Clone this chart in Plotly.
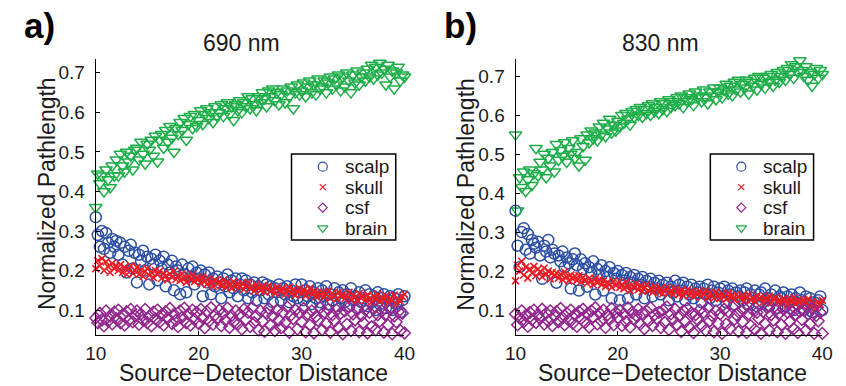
import plotly.graph_objects as go

W, H = 846, 386

# Source-detector distance (mm), 151 samples from 10 to 40 (step 0.2)
distance = [round(10 + 0.2 * i, 1) for i in range(151)]

# ---- 690 nm ----
scalp_690 = [
    0.335, 0.290, 0.260, 0.300, 0.255, 0.295, 0.270, 0.245, 0.280, 0.260,
    0.275, 0.240, 0.270, 0.215, 0.260, 0.195, 0.250, 0.265, 0.205, 0.245,
    0.170, 0.240, 0.225, 0.250, 0.200, 0.235, 0.165, 0.230, 0.215, 0.240,
    0.175, 0.225, 0.205, 0.235, 0.160, 0.215, 0.195, 0.225, 0.150, 0.210,
    0.200, 0.140, 0.215, 0.190, 0.145, 0.205, 0.185, 0.210, 0.165, 0.195,
    0.180, 0.200, 0.135, 0.190, 0.170, 0.195, 0.140, 0.180, 0.160, 0.185,
    0.170, 0.130, 0.180, 0.160, 0.190, 0.145, 0.175, 0.155, 0.180, 0.135,
    0.165, 0.180, 0.150, 0.175, 0.130, 0.165, 0.145, 0.170, 0.125, 0.160,
    0.150, 0.170, 0.130, 0.165, 0.140, 0.160, 0.120, 0.155, 0.145, 0.165,
    0.125, 0.155, 0.140, 0.160, 0.120, 0.150, 0.135, 0.165, 0.130, 0.145,
    0.165, 0.125, 0.150, 0.135, 0.160, 0.115, 0.145, 0.130, 0.155, 0.120,
    0.150, 0.135, 0.160, 0.115, 0.140, 0.125, 0.155, 0.110, 0.145, 0.130,
    0.150, 0.120, 0.140, 0.110, 0.155, 0.125, 0.135, 0.105, 0.145, 0.120,
    0.130, 0.150, 0.110, 0.140, 0.120, 0.135, 0.100, 0.145, 0.115, 0.130,
    0.140, 0.105, 0.125, 0.135, 0.100, 0.130, 0.115, 0.140, 0.095, 0.125,
    0.135]
skull_690 = [
    0.205, 0.225, 0.212, 0.230, 0.200, 0.222, 0.210, 0.195, 0.218, 0.205,
    0.212, 0.200, 0.215, 0.195, 0.208, 0.190, 0.205, 0.212, 0.193, 0.200,
    0.208, 0.190, 0.202, 0.185, 0.198, 0.205, 0.188, 0.196, 0.182, 0.200,
    0.190, 0.198, 0.180, 0.193, 0.186, 0.176, 0.192, 0.183, 0.198, 0.178,
    0.188, 0.175, 0.192, 0.180, 0.170, 0.186, 0.177, 0.190, 0.172, 0.182,
    0.178, 0.168, 0.184, 0.173, 0.165, 0.180, 0.170, 0.160, 0.176, 0.166,
    0.172, 0.162, 0.176, 0.158, 0.170, 0.165, 0.155, 0.172, 0.160, 0.166,
    0.158, 0.168, 0.152, 0.162, 0.170, 0.155, 0.160, 0.148, 0.165, 0.155,
    0.150, 0.160, 0.145, 0.156, 0.162, 0.148, 0.154, 0.142, 0.158, 0.150,
    0.146, 0.155, 0.140, 0.150, 0.158, 0.143, 0.152, 0.138, 0.148, 0.155,
    0.142, 0.150, 0.136, 0.146, 0.155, 0.140, 0.148, 0.134, 0.145, 0.138,
    0.144, 0.132, 0.140, 0.148, 0.130, 0.142, 0.136, 0.128, 0.145, 0.135,
    0.140, 0.128, 0.136, 0.145, 0.126, 0.138, 0.132, 0.124, 0.142, 0.130,
    0.135, 0.125, 0.138, 0.128, 0.120, 0.134, 0.127, 0.140, 0.122, 0.132,
    0.126, 0.136, 0.118, 0.130, 0.124, 0.138, 0.115, 0.128, 0.122, 0.134,
    0.140]
csf_690 = [
    0.080, 0.068, 0.092, 0.075, 0.060, 0.098, 0.072, 0.085, 0.065, 0.095,
    0.078, 0.100, 0.068, 0.088, 0.062, 0.096, 0.074, 0.102, 0.070, 0.086,
    0.098, 0.064, 0.090, 0.075, 0.102, 0.068, 0.084, 0.060, 0.095, 0.078,
    0.100, 0.070, 0.088, 0.062, 0.096, 0.080, 0.104, 0.066, 0.090, 0.074,
    0.058, 0.098, 0.082, 0.105, 0.068, 0.090, 0.062, 0.100, 0.076, 0.094,
    0.066, 0.102, 0.080, 0.055, 0.096, 0.072, 0.106, 0.064, 0.088, 0.078,
    0.100, 0.060, 0.092, 0.074, 0.105, 0.056, 0.086, 0.070, 0.098, 0.064,
    0.090, 0.052, 0.102, 0.076, 0.094, 0.058, 0.106, 0.068, 0.085, 0.050,
    0.098, 0.072, 0.046, 0.092, 0.104, 0.062, 0.085, 0.048, 0.100, 0.075,
    0.055, 0.094, 0.068, 0.108, 0.044, 0.088, 0.078, 0.100, 0.052, 0.092,
    0.070, 0.104, 0.045, 0.090, 0.062, 0.098, 0.042, 0.084, 0.074, 0.106,
    0.050, 0.095, 0.066, 0.102, 0.044, 0.088, 0.072, 0.100, 0.056, 0.092,
    0.040, 0.098, 0.064, 0.108, 0.048, 0.090, 0.075, 0.102, 0.045, 0.086,
    0.068, 0.100, 0.042, 0.094, 0.058, 0.104, 0.050, 0.088, 0.072, 0.098,
    0.044, 0.090, 0.062, 0.102, 0.040, 0.085, 0.070, 0.096, 0.048, 0.092,
    0.042]
brain_690 = [
    0.360, 0.445, 0.420, 0.440, 0.400, 0.455, 0.430, 0.410, 0.465, 0.440,
    0.480, 0.440, 0.495, 0.465, 0.450, 0.500, 0.475, 0.490, 0.455, 0.505,
    0.510, 0.480, 0.525, 0.495, 0.470, 0.520, 0.505, 0.530, 0.490, 0.540,
    0.475, 0.530, 0.545, 0.510, 0.555, 0.525, 0.565, 0.535, 0.500, 0.560,
    0.545, 0.575, 0.555, 0.585, 0.530, 0.570, 0.590, 0.560, 0.595, 0.565,
    0.580, 0.605, 0.570, 0.595, 0.610, 0.585, 0.600, 0.575, 0.615, 0.590,
    0.600, 0.620, 0.590, 0.610, 0.625, 0.595, 0.615, 0.580, 0.620, 0.605,
    0.630, 0.600, 0.625, 0.615, 0.640, 0.610, 0.635, 0.620, 0.605, 0.640,
    0.625, 0.650, 0.635, 0.615, 0.655, 0.640, 0.660, 0.630, 0.650, 0.620,
    0.645, 0.660, 0.625, 0.655, 0.640, 0.665, 0.610, 0.650, 0.670, 0.645,
    0.655, 0.675, 0.640, 0.665, 0.680, 0.650, 0.670, 0.645, 0.685, 0.660,
    0.665, 0.680, 0.650, 0.675, 0.690, 0.660, 0.685, 0.670, 0.695, 0.655,
    0.690, 0.665, 0.700, 0.680, 0.650, 0.695, 0.675, 0.705, 0.670, 0.690,
    0.700, 0.680, 0.710, 0.690, 0.720, 0.685, 0.715, 0.695, 0.725, 0.700,
    0.710, 0.670, 0.720, 0.690, 0.705, 0.660, 0.700, 0.715, 0.680, 0.695,
    0.690]

# ---- 830 nm ----
scalp_830 = [
    0.355, 0.265, 0.210, 0.300, 0.310, 0.255, 0.295, 0.245, 0.280, 0.270,
    0.260, 0.275, 0.240, 0.180, 0.265, 0.250, 0.280, 0.235, 0.255, 0.245,
    0.170, 0.240, 0.225, 0.250, 0.210, 0.235, 0.220, 0.155, 0.230, 0.245,
    0.215, 0.150, 0.230, 0.205, 0.220, 0.160, 0.210, 0.195, 0.225, 0.140,
    0.205, 0.190, 0.215, 0.150, 0.200, 0.185, 0.210, 0.130, 0.195, 0.180,
    0.200, 0.125, 0.190, 0.175, 0.195, 0.130, 0.185, 0.170, 0.190, 0.140,
    0.180, 0.165, 0.185, 0.130, 0.175, 0.160, 0.180, 0.135, 0.170, 0.155,
    0.175, 0.140, 0.165, 0.150, 0.170, 0.125, 0.160, 0.145, 0.175, 0.135,
    0.165, 0.150, 0.170, 0.125, 0.160, 0.140, 0.165, 0.130, 0.155, 0.145,
    0.160, 0.120, 0.155, 0.140, 0.165, 0.130, 0.150, 0.160, 0.125, 0.145,
    0.155, 0.135, 0.160, 0.120, 0.150, 0.140, 0.155, 0.115, 0.145, 0.135,
    0.150, 0.125, 0.145, 0.155, 0.115, 0.140, 0.130, 0.150, 0.110, 0.140,
    0.145, 0.120, 0.155, 0.130, 0.110, 0.140, 0.125, 0.150, 0.105, 0.135,
    0.130, 0.145, 0.110, 0.135, 0.120, 0.140, 0.100, 0.130, 0.115, 0.145,
    0.125, 0.100, 0.135, 0.115, 0.130, 0.095, 0.120, 0.110, 0.125, 0.135,
    0.100]
skull_830 = [
    0.175, 0.215, 0.200, 0.225, 0.190, 0.210, 0.182, 0.205, 0.195, 0.212,
    0.188, 0.205, 0.198, 0.185, 0.208, 0.192, 0.200, 0.180, 0.196, 0.188,
    0.195, 0.182, 0.192, 0.178, 0.198, 0.185, 0.175, 0.190, 0.180, 0.187,
    0.176, 0.188, 0.172, 0.184, 0.178, 0.168, 0.182, 0.174, 0.165, 0.180,
    0.170, 0.178, 0.165, 0.175, 0.160, 0.172, 0.166, 0.158, 0.174, 0.163,
    0.170, 0.158, 0.166, 0.155, 0.172, 0.160, 0.150, 0.165, 0.157, 0.168,
    0.152, 0.162, 0.148, 0.158, 0.165, 0.150, 0.156, 0.145, 0.160, 0.152,
    0.146, 0.156, 0.142, 0.152, 0.158, 0.144, 0.150, 0.140, 0.155, 0.147,
    0.140, 0.150, 0.137, 0.146, 0.152, 0.138, 0.148, 0.135, 0.145, 0.140,
    0.148, 0.134, 0.142, 0.150, 0.132, 0.144, 0.138, 0.130, 0.146, 0.136,
    0.130, 0.142, 0.135, 0.128, 0.144, 0.132, 0.138, 0.126, 0.140, 0.134,
    0.128, 0.138, 0.124, 0.134, 0.140, 0.126, 0.132, 0.122, 0.136, 0.128,
    0.134, 0.120, 0.130, 0.125, 0.136, 0.118, 0.128, 0.132, 0.120, 0.126,
    0.118, 0.130, 0.124, 0.114, 0.128, 0.120, 0.132, 0.116, 0.125, 0.122,
    0.112, 0.126, 0.118, 0.128, 0.110, 0.122, 0.116, 0.106, 0.120, 0.114,
    0.125]
csf_830 = [
    0.090, 0.062, 0.080, 0.098, 0.070, 0.086, 0.058, 0.094, 0.075, 0.100,
    0.068, 0.088, 0.078, 0.102, 0.064, 0.092, 0.072, 0.098, 0.060, 0.085,
    0.096, 0.070, 0.104, 0.080, 0.062, 0.092, 0.074, 0.100, 0.066, 0.088,
    0.058, 0.096, 0.078, 0.102, 0.068, 0.090, 0.056, 0.098, 0.082, 0.106,
    0.064, 0.092, 0.072, 0.100, 0.055, 0.088, 0.076, 0.104, 0.062, 0.094,
    0.080, 0.100, 0.060, 0.090, 0.070, 0.106, 0.056, 0.094, 0.076, 0.086,
    0.102, 0.064, 0.092, 0.052, 0.098, 0.072, 0.106, 0.060, 0.088, 0.078,
    0.094, 0.055, 0.100, 0.068, 0.108, 0.050, 0.090, 0.076, 0.102, 0.062,
    0.085, 0.045, 0.098, 0.070, 0.104, 0.056, 0.092, 0.042, 0.088, 0.075,
    0.100, 0.060, 0.094, 0.048, 0.106, 0.072, 0.086, 0.044, 0.098, 0.066,
    0.090, 0.040, 0.102, 0.064, 0.096, 0.052, 0.108, 0.076, 0.088, 0.045,
    0.098, 0.070, 0.104, 0.042, 0.090, 0.060, 0.100, 0.050, 0.094, 0.078,
    0.040, 0.096, 0.066, 0.106, 0.048, 0.088, 0.074, 0.100, 0.044, 0.092,
    0.062, 0.102, 0.040, 0.094, 0.070, 0.098, 0.052, 0.088, 0.042, 0.096,
    0.076, 0.100, 0.048, 0.090, 0.064, 0.104, 0.040, 0.086, 0.072, 0.094,
    0.040]
brain_830 = [
    0.550, 0.355, 0.440, 0.415, 0.455, 0.405, 0.435, 0.460, 0.420, 0.450,
    0.515, 0.445, 0.480, 0.460, 0.500, 0.440, 0.490, 0.470, 0.505, 0.455,
    0.525, 0.485, 0.510, 0.495, 0.530, 0.480, 0.515, 0.500, 0.535, 0.490,
    0.505, 0.470, 0.540, 0.520, 0.485, 0.550, 0.530, 0.560, 0.540, 0.555,
    0.535, 0.570, 0.550, 0.580, 0.545, 0.565, 0.590, 0.555, 0.575, 0.560,
    0.585, 0.570, 0.600, 0.580, 0.605, 0.590, 0.575, 0.610, 0.595, 0.615,
    0.600, 0.620, 0.595, 0.615, 0.605, 0.625, 0.600, 0.630, 0.610, 0.620,
    0.605, 0.635, 0.615, 0.630, 0.610, 0.640, 0.620, 0.635, 0.625, 0.645,
    0.630, 0.650, 0.620, 0.645, 0.635, 0.655, 0.640, 0.625, 0.660, 0.645,
    0.650, 0.635, 0.665, 0.645, 0.630, 0.660, 0.650, 0.670, 0.640, 0.660,
    0.670, 0.645, 0.665, 0.680, 0.655, 0.675, 0.650, 0.685, 0.665, 0.690,
    0.660, 0.680, 0.670, 0.690, 0.655, 0.685, 0.675, 0.695, 0.665, 0.700,
    0.680, 0.695, 0.670, 0.700, 0.685, 0.705, 0.675, 0.690, 0.710, 0.685,
    0.700, 0.715, 0.690, 0.720, 0.705, 0.730, 0.695, 0.725, 0.710, 0.740,
    0.715, 0.700, 0.725, 0.690, 0.710, 0.675, 0.705, 0.720, 0.695, 0.715,
    0.705]

tissues = ["scalp", "skull", "csf", "brain"]
panel_titles = ["690 nm", "830 nm"]
panel_labels = ["a)", "b)"]
x_ticks = [10, 20, 30, 40]
y_ticks = [0.1, 0.2, 0.3, 0.4, 0.5, 0.6, 0.7]
x_title = "Source\u2212Detector Distance"
y_title = "Normalized Pathlength"

data = [
    {"scalp": scalp_690, "skull": skull_690, "csf": csf_690, "brain": brain_690},
    {"scalp": scalp_830, "skull": skull_830, "csf": csf_830, "brain": brain_830},
]

style = {
    "scalp": dict(symbol="circle-open", size=11, color="#2c4fa6", lw=1.5),
    "skull": dict(symbol="x-thin-open", size=7, color="#ec1c24", lw=1.6),
    "csf": dict(symbol="diamond-open", size=9, color="#93268e", lw=1.5),
    "brain": dict(symbol="triangle-down-open", size=11, color="#1dae48", lw=1.5),
}

FONT = "Liberation Sans, Arial, Helvetica, sans-serif"
TXT = "#1a1a1a"

fig = go.Figure()

# pixel geometry of the axes boxes and legend boxes
boxes = [
    dict(x0=87, x1=404, y0=59, y1=335, yr=[0.037, 0.735],
         title_x=237, xt_x=249, yt_x=37, lab_x=29, leg=(288, 395, 154, 240)),
    dict(x0=518, x1=833, y0=59, y1=335, yr=[0.036, 0.744],
         title_x=667, xt_x=679, yt_x=467, lab_x=462, leg=(718, 824, 154, 240)),
]

for p, b in enumerate(boxes):
    sfx = "" if p == 0 else "2"
    for t in tissues:
        s = style[t]
        fig.add_trace(go.Scatter(
            x=distance, y=data[p][t], mode="markers", name=t, showlegend=False,
            xaxis="x" + sfx, yaxis="y" + sfx, cliponaxis=False,
            marker=dict(symbol=s["symbol"], size=s["size"], color=s["color"],
                        line=dict(width=s["lw"], color=s["color"])),
        ))

layout = dict(
    width=W, height=H, margin=dict(l=0, r=0, t=0, b=0),
    paper_bgcolor="white", plot_bgcolor="rgba(0,0,0,0)",
    font=dict(family=FONT, color=TXT, size=19),
    showlegend=False,
)

annotations = []
shapes = []
for p, b in enumerate(boxes):
    sfx = "" if p == 0 else "2"
    layout["xaxis" + sfx] = dict(
        domain=[b["x0"] / W, b["x1"] / W], range=[10, 40], tickvals=x_ticks,
        ticks="inside", ticklen=4, tickcolor="black", showline=True,
        linecolor="black", linewidth=1, showgrid=False, zeroline=False,
        tickfont=dict(size=19, color=TXT), anchor="y" + sfx, ticklabelstandoff=1,
    )
    layout["yaxis" + sfx] = dict(
        domain=[1 - b["y1"] / H, 1 - b["y0"] / H], range=b["yr"], tickvals=y_ticks,
        ticktext=[f"{v:.1f}" for v in y_ticks], ticks="inside", ticklen=4,
        tickcolor="black", showline=True, linecolor="black", linewidth=1,
        showgrid=False, zeroline=False, tickfont=dict(size=19, color=TXT),
        anchor="x" + sfx, ticklabelstandoff=6,
    )
    annotations += [
        dict(text=panel_titles[p], x=b["title_x"] / W, y=1 - 43 / H, xref="paper",
             yref="paper", showarrow=False, xanchor="center", yanchor="middle",
             font=dict(size=23, color=TXT)),
        dict(text=x_title, x=b["xt_x"] / W, y=1 - 388 / H, xref="paper", yref="paper",
             showarrow=False, xanchor="center", yanchor="bottom",
             font=dict(size=23, color=TXT)),
        dict(text=y_title, x=b["yt_x"] / W, y=1 - 194 / H, xref="paper", yref="paper",
             showarrow=False, textangle=-90, xanchor="center", yanchor="middle",
             font=dict(size=23, color=TXT)),
        dict(text="<b>" + panel_labels[p] + "</b>", x=b["lab_x"] / W, y=1 - 25 / H,
             xref="paper", yref="paper", showarrow=False, xanchor="center",
             yanchor="middle", font=dict(size=35, color="black")),
    ]

    # legend: own overlay axes covering the legend box
    lx0, lx1, ly0, ly1 = b["leg"]
    lxa, lya = "x" + str(3 + p), "y" + str(3 + p)
    layout["xaxis" + str(3 + p)] = dict(domain=[lx0 / W, lx1 / W], range=[0, 1],
                                        visible=False, fixedrange=True)
    layout["yaxis" + str(3 + p)] = dict(domain=[1 - ly1 / H, 1 - ly0 / H], range=[1, 0],
                                        visible=False, fixedrange=True)
    shapes.append(dict(type="rect", xref=lxa + " domain", yref=lya + " domain",
                       x0=0, x1=1, y0=0, y1=1, line=dict(color="black", width=1.5),
                       fillcolor="white", layer="below"))
    rows = [(i + 0.62) / 4.2 for i in range(len(tissues))]
    for t, r in zip(tissues, rows):
        s = style[t]
        fig.add_trace(go.Scatter(
            x=[0.3], y=[r], mode="markers", showlegend=False, xaxis=lxa, yaxis=lya,
            hoverinfo="skip",
            marker=dict(symbol=s["symbol"], size=s["size"] - (1 if t == "skull" else 2),
                        color=s["color"], line=dict(width=1.2, color=s["color"])),
        ))
        annotations.append(dict(text=t, x=0.49, y=r, xref=lxa, yref=lya,
                                showarrow=False, xanchor="left", yanchor="middle",
                                font=dict(size=19, color=TXT)))

layout["annotations"] = annotations
layout["shapes"] = shapes
fig.update_layout(**layout)
fig.write_html("out.html")
